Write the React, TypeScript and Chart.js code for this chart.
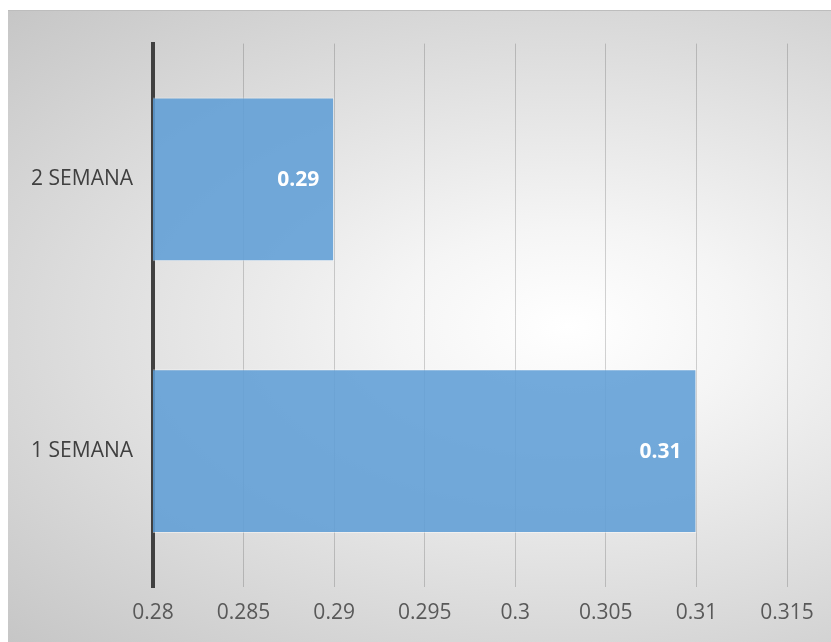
import React, { useEffect, useRef } from "react";
import { Chart, registerables } from "chart.js";

Chart.register(...registerables);

const categories = ["2 SEMANA", "1 SEMANA"];
const values = [0.29, 0.31];
const xMin = 0.28;
const xMax = 0.315;
const xStep = 0.005;

const FONT = "'Open Sans', 'Liberation Sans', sans-serif";

const valueLabels = {
  id: "valueLabels",
  afterDatasetsDraw(chart: any) {
    const ctx = chart.ctx;
    const meta = chart.getDatasetMeta(0);
    ctx.save();
    ctx.font = `bold 21px ${FONT}`;
    ctx.fillStyle = "#ffffff";
    ctx.textAlign = "right";
    ctx.textBaseline = "middle";
    meta.data.forEach((bar: any, i: number) => {
      const v = values[i];
      ctx.fillText(String(v), bar.x - 15, bar.y + 1);
    });
    ctx.restore();
  },
};

export default function App() {
  const ref = useRef<HTMLCanvasElement>(null);
  useEffect(() => {
    if (!ref.current) return;
    const chart = new Chart(ref.current, {
      type: "bar",
      data: {
        labels: categories,
        datasets: [
          {
            data: values,
            backgroundColor: "rgba(94,157,214,0.87)",
            borderColor: "rgba(255,255,255,0.45)",
            borderWidth: 1,
            borderSkipped: false,
            categoryPercentage: 1,
            barPercentage: 0.603,
          },
        ],
      },
      options: {
        indexAxis: "y",
        animation: false,
        responsive: false,
        maintainAspectRatio: false,
        layout: { padding: { left: 0, right: 44, top: 30, bottom: 0 } },
        plugins: { legend: { display: false }, tooltip: { enabled: false } },
        scales: {
          x: {
            type: "linear",
            min: xMin,
            max: xMax,
            ticks: {
              stepSize: xStep,
              color: "#595959",
              font: { family: FONT, size: 21 },
              padding: 13,
              callback: (v: any) => String(parseFloat(Number(v).toFixed(3))),
            },
            grid: { color: "rgba(0,0,0,0.17)", lineWidth: 1, drawTicks: false },
            border: { display: false },
            afterFit: (s: any) => {
              s.height = 55;
            },
          },
          y: {
            ticks: {
              color: "#404040",
              font: { family: FONT, size: 21 },
              padding: 20,
            },
            grid: { display: false, drawTicks: false },
            border: { display: true, color: "#404040", width: 4 },
            afterFit: (s: any) => {
              s.width = 145;
            },
          },
        },
      },
      plugins: [valueLabels],
    });
    return () => chart.destroy();
  }, []);
  return (
    <div
      style={{
        position: "fixed",
        left: 8,
        top: 10,
        width: 823,
        height: 632,
        background:
          "radial-gradient(ellipse farthest-corner at 68% 50%, #ffffff 0%, #f5f5f5 22%, #c6c6c6 100%)",
        borderTop: "1px solid #bdbdbd",
        boxSizing: "border-box",
      }}
    >
      <canvas ref={ref} width={823} height={631} style={{ display: "block" }} />
    </div>
  );
}
